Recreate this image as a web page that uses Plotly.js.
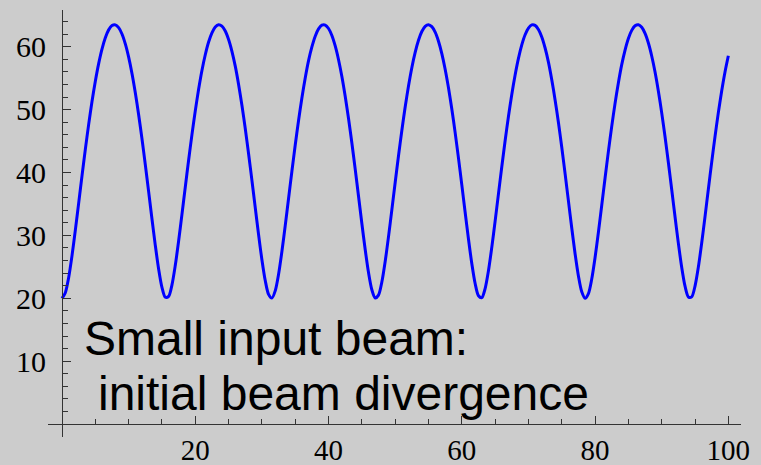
<!DOCTYPE html>
<html>
<head>
<meta charset="utf-8">
<script src="https://cdn.plot.ly/plotly-3.0.1.min.js"></script>
<style>html,body{margin:0;padding:0;background:#cccccc;}#chart{width:761px;height:465px;}</style>
</head>
<body>
<div id="chart"></div>
<script>
const xStep = 0.5;
const beamValues = [
  20.00, 20.89, 23.31, 26.78, 30.83, 35.14, 39.47, 43.67, 47.64, 51.27,
  54.51, 57.31, 59.62, 61.42, 62.67, 63.35, 63.47, 63.02, 62.01, 60.44,
  58.34, 55.74, 52.66, 49.19, 45.36, 41.24, 36.95, 32.61, 28.42, 24.66,
  21.73, 20.16, 20.31, 22.14, 25.24, 29.10, 33.33, 37.68, 41.95, 46.02,
  49.80, 53.22, 56.22, 58.72, 60.74, 62.21, 63.14, 63.50, 63.28, 62.50,
  61.15, 59.27, 56.90, 54.00, 50.69, 46.99, 42.98, 38.75, 34.41, 30.13,
  26.14, 22.82, 20.62, 20.03, 21.20, 23.83, 27.43, 31.55, 35.87, 40.19,
  44.36, 48.27, 51.84, 55.02, 57.78, 59.96, 61.67, 62.82, 63.41, 63.44,
  62.89, 61.78, 60.12, 57.93, 55.26, 52.11, 48.57, 44.68, 40.53, 36.22,
  31.89, 27.75, 24.09, 21.36, 20.06, 20.51, 22.59, 25.85, 29.80, 34.06,
  38.41, 42.65, 46.68, 50.40, 53.74, 56.66, 59.10, 61.02, 62.41, 63.24,
  63.50, 63.19, 62.31, 60.87, 58.90, 56.42, 53.46, 50.09, 46.34, 42.28,
  38.03, 33.68, 29.43, 25.53, 22.35, 20.40, 20.10, 21.55, 24.38, 28.10,
  32.27, 36.60, 40.91, 45.04, 48.90, 52.41, 55.51, 58.15, 60.29, 61.90,
  62.96, 63.46, 63.39, 62.74, 61.54, 59.79, 57.55, 54.75, 51.54, 47.94,
  44.00, 39.81, 35.49, 31.17, 27.09, 23.56, 21.03, 20.01, 20.75, 23.07,
  26.48, 30.50, 34.79, 39.13, 43.35, 47.33, 50.99, 54.27, 57.14, 59.46,
  61.30, 62.59, 63.32, 63.49, 63.08, 62.11, 60.58, 58.52, 55.98, 52.93,
  49.48, 45.67, 41.58, 37.30, 32.96, 28.74, 24.93, 21.92, 20.22, 20.23,
  21.94, 24.96, 28.78, 32.99, 37.33, 41.61, 45.71, 49.51, 52.95, 55.98,
  58.55
];
const xValues = beamValues.map((_, i) => i * xStep);
const xTickVals = [20, 40, 60, 80, 100];
const xTickText = ["20", "40", "60", "80", "100"];
const yTickVals = [10, 20, 30, 40, 50, 60];
const yTickText = ["10", "20", "30", "40", "50", "60"];
const noteLines = ["Small input beam:", "initial beam divergence"];

const xRange = [-2.103, 101.90];
const yRange = [-2.05, 65.83];

const trace = {
  x: xValues, y: beamValues, type: 'scatter', mode: 'lines',
  line: {color: '#0000ff', width: 3, shape: 'spline', smoothing: 0.8},
  hoverinfo: 'skip'
};

const axisColor = '#333333';
const serif = '"Liberation Serif", "Times New Roman", serif';

const layout = {
  width: 761, height: 465,
  paper_bgcolor: '#cccccc', plot_bgcolor: '#cccccc',
  margin: {l: 48, r: 20, t: 10, b: 28, pad: 0},
  showlegend: false,
  xaxis: {
    range: xRange, anchor: 'free', position: (0 - yRange[0]) / (yRange[1] - yRange[0]),
    showgrid: false, zeroline: false, showline: true, linecolor: axisColor, linewidth: 1,
    tickmode: 'array', tickvals: xTickVals, ticktext: xTickText,
    ticks: 'inside', ticklen: 8, tickwidth: 1, tickcolor: axisColor,
    minor: {ticks: 'inside', ticklen: 5, tickwidth: 1, tickcolor: axisColor, tickmode: 'linear', tick0: 0, dtick: 5, showgrid: false},
    tickfont: {family: serif, size: 29, color: '#000000'}, ticklabelstandoff: 0, automargin: false, fixedrange: true
  },
  yaxis: {
    range: yRange, anchor: 'free', position: (0 - xRange[0]) / (xRange[1] - xRange[0]),
    showgrid: false, zeroline: false, showline: true, linecolor: axisColor, linewidth: 1,
    tickmode: 'array', tickvals: yTickVals, ticktext: yTickText,
    ticks: 'inside', ticklen: 8, tickwidth: 1, tickcolor: axisColor,
    minor: {ticks: 'inside', ticklen: 5, tickwidth: 1, tickcolor: axisColor, tickmode: 'linear', tick0: 0, dtick: 2, showgrid: false},
    tickfont: {family: serif, size: 30, color: '#000000'}, ticklabelstandoff: 10, automargin: false, fixedrange: true
  },
  annotations: [
    {text: noteLines[0], x: 3.0, y: 13.6, xref: 'x', yref: 'y', xanchor: 'left', yanchor: 'middle',
     showarrow: false, font: {family: '"Liberation Sans", Arial, sans-serif', size: 48, color: '#000000'}},
    {text: noteLines[1], x: 5.1, y: 4.9, xref: 'x', yref: 'y', xanchor: 'left', yanchor: 'middle',
     showarrow: false, font: {family: '"Liberation Sans", Arial, sans-serif', size: 48, color: '#000000'}}
  ]
};

Plotly.newPlot('chart', [trace], layout, {staticPlot: true, displayModeBar: false});
</script>
</body>
</html>
